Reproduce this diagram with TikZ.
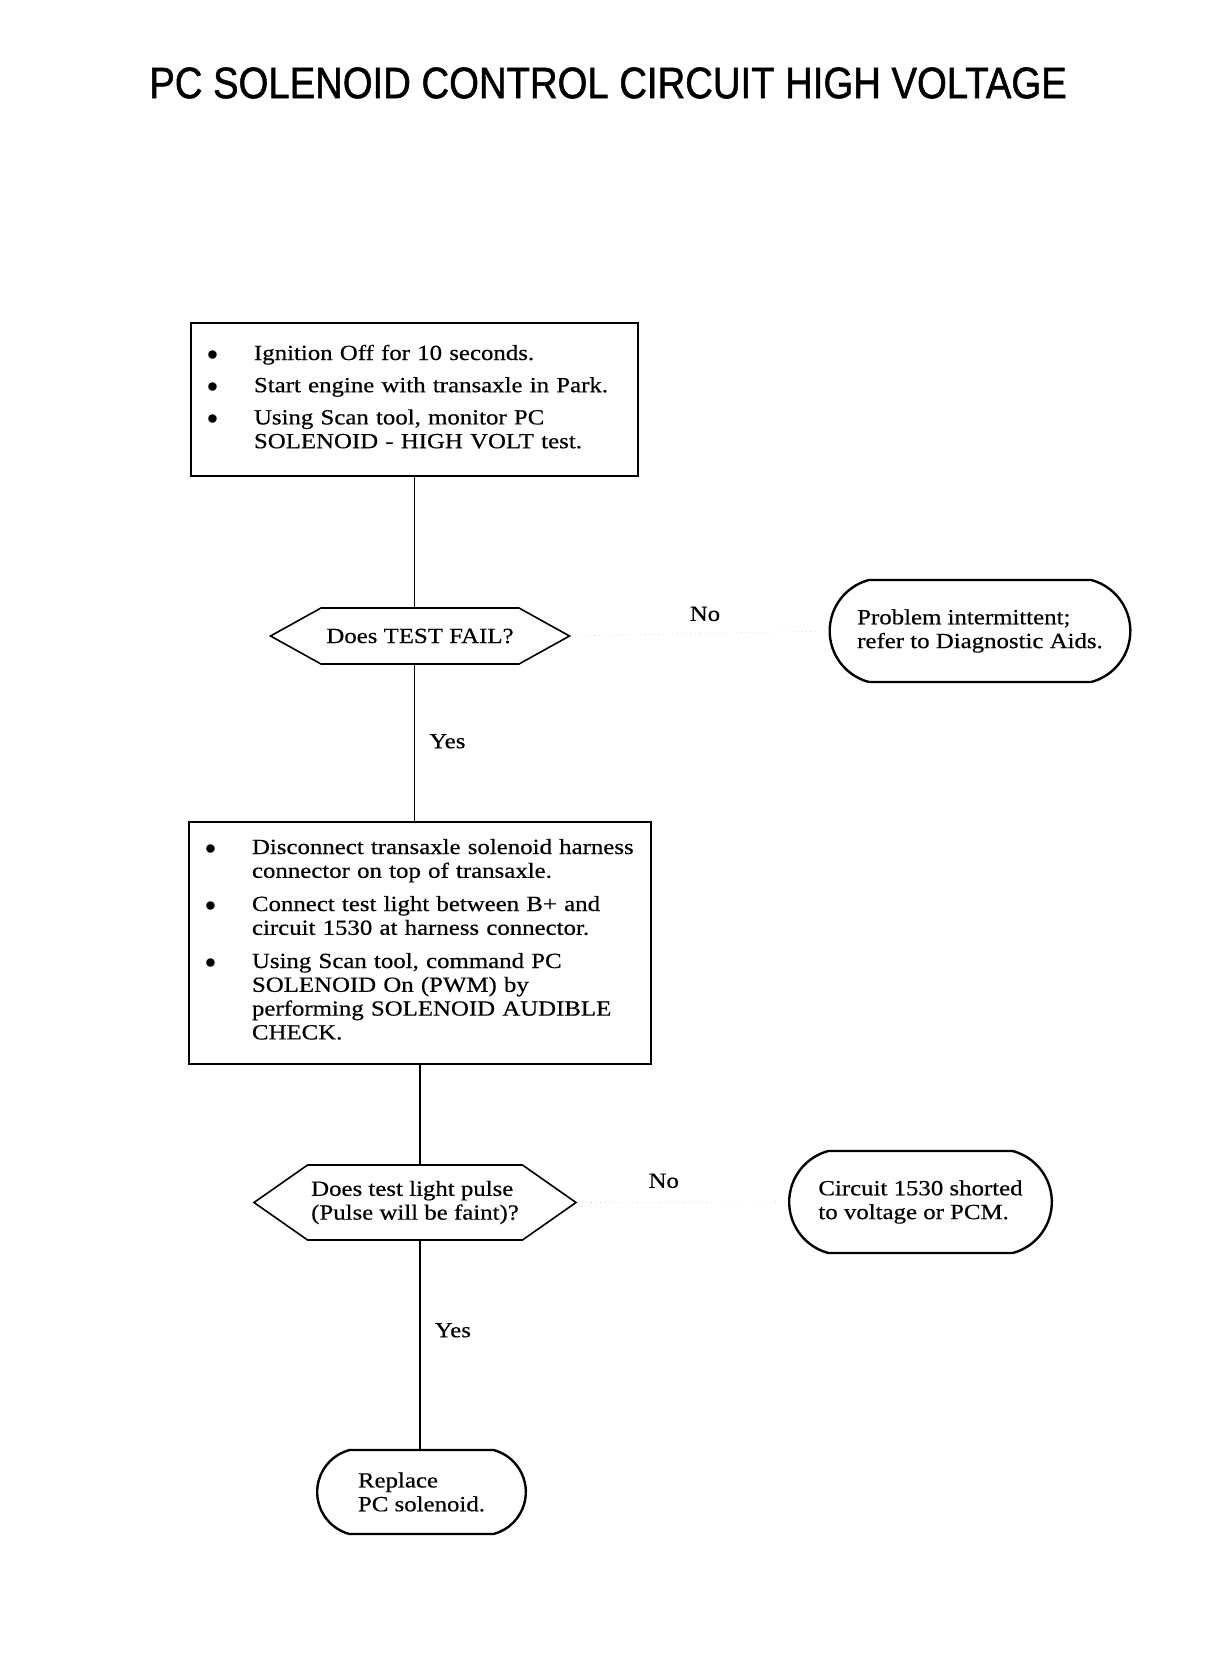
\documentclass[tikz,border=0pt]{standalone}
\usepackage{fontspec}
\setmainfont[FakeStretch=1.15, FakeBold=0.5]{Liberation Serif}
\newfontfamily\titlefont[FakeStretch=0.87, FakeBold=1.2]{Liberation Sans}
\usetikzlibrary{shapes.symbols,shapes.misc}

\newcommand{\bul}[1]{\par\noindent\makebox[23.5pt][l]{$\bullet$}\begin{tabular}[t]{@{}l@{}}#1\end{tabular}}
\newcommand{\pushup}[1]{\rule[-#1]{0pt}{#1}}

\tikzset{
	stepbox/.style={draw, line width=1.2pt, inner xsep=8pt, inner ysep=0pt, align=left, font=\fontsize{10.8}{11.9}\selectfont},
	ask/.style={draw, line width=.8pt, signal, signal to=east and west, align=left, inner sep=1pt, font=\fontsize{10.8}{11.9}\selectfont},
	endbox/.style={draw, line width=1.2pt, rounded rectangle, rounded rectangle arc length=150, align=left, font=\fontsize{10.8}{11.9}\selectfont},
	flow/.style={line width=.8pt},
	faint/.style={line width=.3pt, black!25, dotted},
	lbl/.style={font=\fontsize{10.8}{12}\selectfont, inner sep=0pt}
}

\begin{document}
\begin{tikzpicture}[x=.5pt, y=-.5pt]
	\useasboundingbox (0,0) rectangle (1216,1664);

	\node[font=\titlefont\fontsize{22}{26}\selectfont] (title) at (608,83) {PC SOLENOID CONTROL CIRCUIT HIGH VOLTAGE};

	\node[stepbox, text width=207.5pt, minimum height=76.5pt] (check) at (414.5,399.5) {\setlength{\parskip}{4.2pt}%
		\bul{Ignition Off for 10 seconds.}
		\bul{Start engine with transaxle in Park.}
		\bul{Using Scan tool, monitor PC\\SOLENOID - HIGH VOLT test.\pushup{11.5pt}}};

	\node[ask, minimum width=149.5pt, minimum height=28pt, signal pointer angle=58] (fail) at (420,636) {Does TEST FAIL?};
	\node[endbox, minimum width=157pt, minimum height=51pt] (intermit) at (980,631) {Problem intermittent;\\refer to Diagnostic Aids.};

	\node[stepbox, text width=215pt, minimum height=121pt] (probe) at (420,943) {\setlength{\parskip}{3.7pt}%
		\bul{Disconnect transaxle solenoid harness\\connector on top of transaxle.}
		\bul{Connect test light between B+ and\\circuit 1530 at harness connector.}
		\bul{Using Scan tool, command PC\\SOLENOID On (PWM) by\\performing SOLENOID AUDIBLE\\CHECK.\pushup{11.9pt}}};

	\node[ask, minimum width=161pt, minimum height=37.5pt, signal pointer angle=70] (pulse) at (415,1202.5) {Does test light pulse\\(Pulse will be faint)?};
	\node[endbox, minimum width=138pt, minimum height=51pt] (shorted) at (920.5,1202) {Circuit 1530 shorted\\to voltage or PCM.};

	\node[endbox, minimum width=111pt, minimum height=42pt] (replace) at (421.5,1492) {Replace\\PC solenoid.};

	% main column
	\draw[flow] (check.south) -- (check.south |- fail.north);
	\draw[flow] (check.south |- fail.south) -- node[lbl, anchor=west, xshift=7pt, pos=.49] (yes1) {Yes} (check.south |- probe.north);
	\draw[flow] (probe.south) -- (probe.south |- pulse.north);
	\draw[flow] (probe.south |- pulse.south) -- node[lbl, anchor=west, xshift=7pt, pos=.43] (yes2) {Yes} (probe.south |- replace.north);

	% no branches
	\draw[faint] (fail.east) -- node[lbl, above=6pt, black, pos=.52] (no1) {No} (intermit.west);
	\draw[faint] (pulse.east) -- node[lbl, above=7pt, black, pos=.41] (no2) {No} (shorted.west);
\end{tikzpicture}
\end{document}
